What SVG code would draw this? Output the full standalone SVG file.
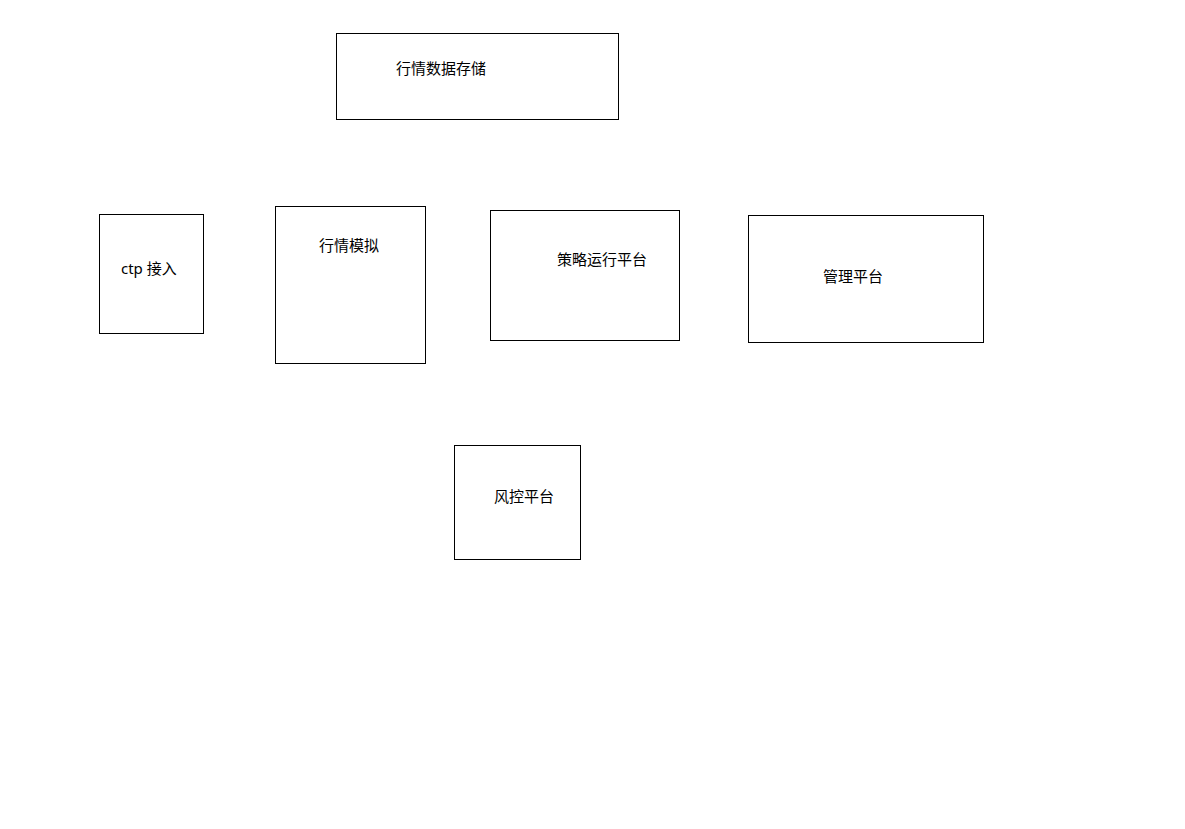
<svg xmlns="http://www.w3.org/2000/svg" width="1185" height="829" viewBox="0 0 1185 829">
  <style>
    .box { fill: #ffffff; stroke: #000000; stroke-width: 1; }
    .label { font-family: "Noto Sans", "Noto Sans CJK SC", sans-serif; font-size: 15px; fill: #000000; }
  </style>
  <rect x="0" y="0" width="1185" height="829" fill="#ffffff"/>

  <g id="market-data-storage">
    <rect class="box" x="336.5" y="33.5" width="282" height="86"/>
    <text class="label" x="396" y="74">行情数据存储</text>
  </g>

  <g id="ctp-access">
    <rect class="box" x="99.5" y="214.5" width="104" height="119"/>
    <text class="label" x="121" y="274">ctp 接入</text>
  </g>

  <g id="market-simulation">
    <rect class="box" x="275.5" y="206.5" width="150" height="157"/>
    <text class="label" x="319" y="250.5">行情模拟</text>
  </g>

  <g id="strategy-runtime">
    <rect class="box" x="490.5" y="210.5" width="189" height="130"/>
    <text class="label" x="557" y="264.5">策略运行平台</text>
  </g>

  <g id="management-platform">
    <rect class="box" x="748.5" y="215.5" width="235" height="127"/>
    <text class="label" x="823" y="281.5">管理平台</text>
  </g>

  <g id="risk-control">
    <rect class="box" x="454.5" y="445.5" width="126" height="114"/>
    <text class="label" x="494" y="501.5">风控平台</text>
  </g>

  <g id="connectors"></g>
</svg>
